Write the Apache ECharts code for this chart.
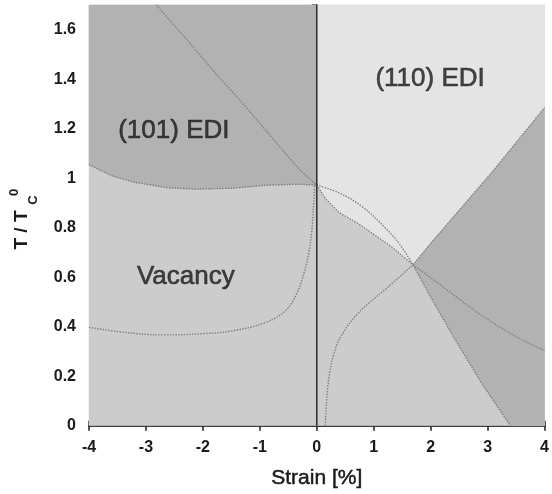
<!DOCTYPE html>
<html><head><meta charset="utf-8">
<script src="https://cdn.jsdelivr.net/npm/echarts@6/dist/echarts.min.js"></script>
<style>html,body{margin:0;padding:0;background:#fff}#c{width:552px;height:494px}</style>
</head><body><div id="c"></div>
<script>
// ---- data (strain %, T/Tc0) ----
var xTicks = [-4, -3, -2, -1, 0, 1, 2, 3, 4];
var yTicks = [0, 0.2, 0.4, 0.6, 0.8, 1, 1.2, 1.4, 1.6];
var boundary101 = [[-4,1.055],[-3.6,1.01],[-3.23,0.985],[-2.64,0.962],[-2.12,0.956],[-1.47,0.96],[-0.89,0.972],[-0.31,0.976],[0,0.972]];
var curveA = [[-2.82,1.70],[-2.3,1.565],[-1.8,1.43],[-1.36,1.318],[-0.66,1.13],[-0.3,1.035],[0,0.972]];
var curveB = [[-4,0.398],[-3.4,0.378],[-2.7,0.367],[-2.0,0.372],[-1.47,0.384],[-0.89,0.418],[-0.55,0.465],[-0.36,0.53],[-0.22,0.62],[-0.14,0.70],[-0.09,0.78],[-0.055,0.9],[-0.035,0.983]];
var lower110 = [[0,0.972],[0.03,0.962],[0.16,0.915],[0.39,0.862],[0.74,0.815],[1.04,0.767],[1.33,0.72],[1.69,0.65]];
var lowerSteep = [[1.69,0.65],[2.0,0.52],[2.4,0.36],[2.9,0.17],[3.4,0]];
var risingLeft = [[0.15,0],[0.165,0.07],[0.19,0.149],[0.23,0.22],[0.29,0.283],[0.42,0.36],[0.74,0.458],[1.21,0.552],[1.69,0.65]];
var risingRight = [[1.69,0.65],[2.03,0.745],[3.08,1.025],[4,1.285]];
var upper110Left = [[0,0.972],[0.4,0.94],[0.8,0.885],[1.2,0.8],[1.45,0.735],[1.69,0.65]];
var upper110Right = [[1.69,0.65],[2.03,0.593],[2.9,0.445],[3.5,0.36],[4,0.304]];
var regionLabels = [
  {name:'(101) EDI', value:[-2.51,1.19]},
  {name:'(110) EDI', value:[1.99,1.40]},
  {name:'Vacancy', value:[-2.30,0.60]}
];
var xMin=-4, xMax=4, yMin=0, yMax=1.7;

// ---- polygons built from the curves ----
var polyVacancy = [[xMin,yMin],[xMax,yMin],[xMax,yMax],[xMin,yMax]];
var poly101 = boundary101.concat([[0,yMax],[xMin,yMax]]);
var poly110 = [[0,yMax]].concat(lower110, risingRight.slice(1), [[xMax,yMax]]);
var polyWedge = risingRight.concat([[xMax,yMin]], lowerSteep.slice().reverse());

var chart = echarts.init(document.getElementById('c'));
function polySeries(pts, color){
  return {type:'custom', xAxisIndex:0, yAxisIndex:0, silent:true, data:[[0,0]], z:1,
    renderItem:function(params, api){
      return {type:'polygon', shape:{points: pts.map(function(p){return api.coord(p);})},
              style:{fill:color, stroke:color, lineWidth:0.5}};
    }};
}
function dotted(pts, smooth){
  return {type:'line', data:pts, showSymbol:false, symbol:'none', silent:true, z:3, smooth:smooth||false,
    lineStyle:{color:'#7e7e7e', width:1.4, type:[1.4,1.4]}};
}
var tickFont = {fontFamily:'Liberation Sans', fontWeight:'bold', fontSize:16, color:'#1a1a1a'};
var axisLine = {show:true, lineStyle:{color:'#1a1a1a', width:1.5}};
var axisTick = {show:true, inside:true, length:5, lineStyle:{color:'#1a1a1a', width:1.5}};

chart.setOption({
  animation:false,
  backgroundColor:'#ffffff',
  grid:{left:89, right:6, top:5, bottom:67},
  xAxis:[
    {type:'value', min:xMin, max:xMax, interval:1, position:'bottom',
     axisLine:axisLine, axisTick:axisTick, splitLine:{show:false},
     axisLabel:Object.assign({margin:14}, tickFont),
     name:'Strain [%]', nameLocation:'middle', nameGap:42,
     nameTextStyle:{fontFamily:'Liberation Sans', fontSize:21, color:'#1a1a1a', textBorderColor:'#1a1a1a', textBorderWidth:0.5}},
    {type:'value', min:xMin, max:xMax, interval:1, position:'top',
     axisLine:axisLine, axisTick:axisTick, splitLine:{show:false}, axisLabel:{show:false}}
  ],
  yAxis:[
    {type:'value', min:yMin, max:yMax, interval:0.2, position:'left',
     axisLine:axisLine, axisTick:axisTick, splitLine:{show:false},
     axisLabel:Object.assign({margin:13, showMaxLabel:false}, tickFont)},
    {type:'value', min:yMin, max:yMax, interval:0.2, position:'right',
     axisLine:axisLine, axisTick:axisTick, splitLine:{show:false}, axisLabel:{show:false}}
  ],
  graphic:[
    {type:'text', x:22, y:230, rotation:Math.PI/2, z:10,
     style:{text:'T / T', font:'bold 19px "Liberation Sans"', fill:'#1a1a1a', align:'center', verticalAlign:'middle'}},
    {type:'text', x:33, y:200, rotation:Math.PI/2, z:10,
     style:{text:'C', font:'bold 13px "Liberation Sans"', fill:'#1a1a1a', align:'center', verticalAlign:'middle'}},
    {type:'text', x:14, y:192.5, rotation:Math.PI/2, z:10,
     style:{text:'0', font:'bold 13px "Liberation Sans"', fill:'#1a1a1a', align:'center', verticalAlign:'middle'}}
  ],
  series:[
    polySeries(polyVacancy, '#cccccc'),
    polySeries(poly101, '#b2b2b2'),
    polySeries(poly110, '#e4e4e4'),
    polySeries(polyWedge, '#b2b2b2'),
    dotted(boundary101), dotted(curveA, 0.3), dotted(curveB, 0.4), dotted(lower110),
    dotted(lowerSteep), dotted(risingLeft, 0.4), dotted(risingRight),
    dotted(upper110Left, 0.4), dotted(upper110Right, 0.3),
    {type:'line', data:[[0,yMin],[0,yMax]], showSymbol:false, symbol:'none', silent:true, z:4,
     lineStyle:{color:'#333333', width:1.6}},
    {type:'scatter', data:regionLabels, symbolSize:0, silent:true, z:5,
     label:{show:true, position:'inside', formatter:'{b}', fontFamily:'Liberation Sans',
            fontSize:26, color:'#1a1a1a', textBorderColor:'#1a1a1a', textBorderWidth:0.6}}
  ]
});
</script></body></html>
